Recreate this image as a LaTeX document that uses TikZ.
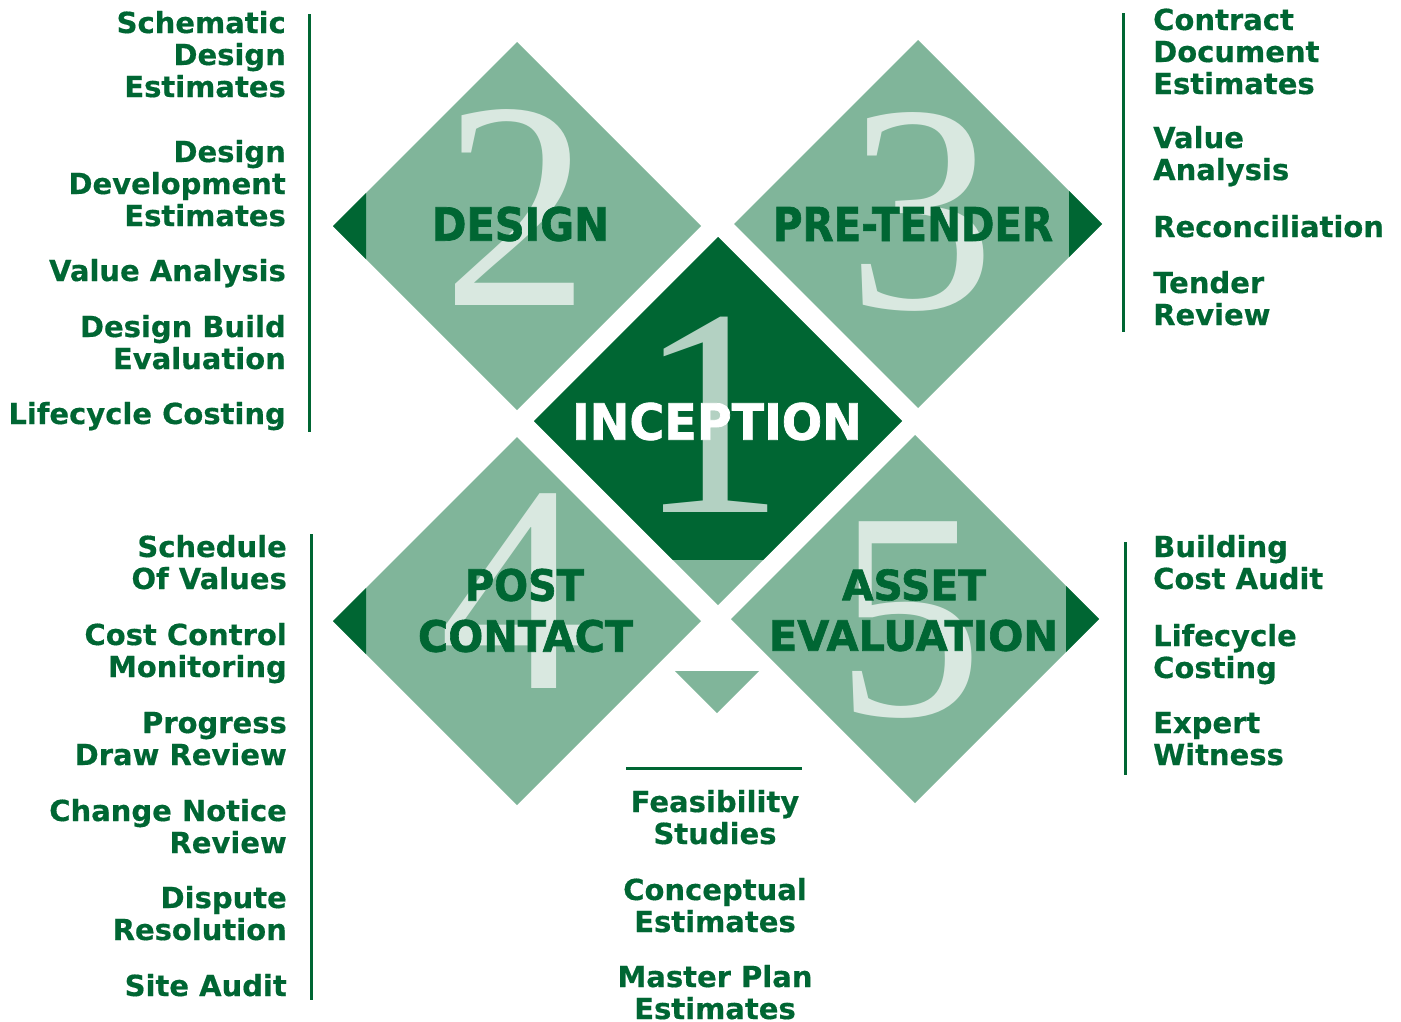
\documentclass[tikz,border=0pt]{standalone}
\usepackage{fontspec}
\usepackage{graphicx}
\newfontfamily\labelfont{DejaVu Sans}[BoldFeatures={FakeBold=0.5}]
\newfontfamily\titlefont{DejaVu Sans}[BoldFeatures={FakeBold=1.5}]
\newfontfamily\numfont{Liberation Serif}
\definecolor{pinegreen}{HTML}{006633}
\definecolor{sagegreen}{HTML}{80B59A}
\definecolor{palegreen}{HTML}{D9E8E0}
\definecolor{mistgreen}{HTML}{B3D1C2}

\begin{document}
\begin{tikzpicture}[x=1pt, y=-1pt,
  item/.style={font=\labelfont\bfseries\fontsize{29}{32}\selectfont, text=pinegreen, inner sep=0pt},
  num/.style={font=\numfont\fontsize{296}{296}\selectfont, text=palegreen, inner sep=0pt, anchor=base},
  title/.style={font=\titlefont\bfseries, text=pinegreen, inner sep=0pt},
  rule/.style={pinegreen, line width=3pt}]
\useasboundingbox (0,0) rectangle (1401,1021);

%% phase diamonds
\foreach \cx/\cy in {517/226, 918/224, 517/621, 915/619}
  \fill[sagegreen] (\cx-184,\cy) -- (\cx,\cy-184) -- (\cx+184,\cy) -- (\cx,\cy+184) -- cycle;

\fill[sagegreen] (534,421) -- (718,237) -- (902,421) -- (718,605) -- cycle;
\begin{scope}
\clip (500,200) rectangle (950,559);
\fill[pinegreen] (534,421) -- (718,237) -- (902,421) -- (718,605) -- cycle;
\end{scope}

%% dark tips
\fill[pinegreen] (333,226) -- (366,193) -- (366,259) -- cycle;
\fill[pinegreen] (1102,224) -- (1069,191) -- (1069,257) -- cycle;
\fill[pinegreen] (333,621) -- (366,588) -- (366,654) -- cycle;
\fill[pinegreen] (1099,619) -- (1066,586) -- (1066,652) -- cycle;

\fill[sagegreen] (675,671) -- (759,671) -- (717,713) -- cycle;

%% big numbers
\node[num] (n2) at (516.5,305) {2};
\node[num] (n3) at (921.5,308) {3};
\node[num, text=mistgreen] (n1) at (711.5,512) {1};
\node[num] (n4) at (513.5,688) {4};
\node[num] (n5) at (909.5,715) {5};

%% phase titles
\node[title] (design) at (520.5,224) {\resizebox{177pt}{34pt}{DESIGN}};
\node[title] (tender) at (913,224) {\resizebox{280pt}{34pt}{PRE-TENDER}};
\node[title, text=white] (inception) at (717,421.5) {\resizebox{290pt}{37pt}{INCEPTION}};
\node[title] (post) at (524.5,585) {\resizebox{119pt}{32pt}{POST}};
\node[title] (contact) at (525.5,636) {\resizebox{215pt}{32pt}{CONTACT}};
\node[title] (asset) at (914,585) {\resizebox{144pt}{31pt}{ASSET}};
\node[title] (evaluation) at (913.5,635.5) {\resizebox{289pt}{31pt}{EVALUATION}};

%% design services
\draw[rule] (309,14) -- (309,432);
\node[item, anchor=base east, align=right] (sde) at (286,97) {Schematic\\Design\\Estimates};
\node[item, anchor=base east, align=right] (dde) at (286,226) {Design\\Development\\Estimates};
\node[item, anchor=base east, align=right] (va) at (286,281) {Value Analysis};
\node[item, anchor=base east, align=right] (dbe) at (286,369) {Design Build\\Evaluation};
\node[item, anchor=base east, align=right] (lc) at (286,424) {Lifecycle Costing};

%% pre-tender services
\draw[rule] (1123,13) -- (1123,332);
\node[item, anchor=base west, align=left] (cde) at (1153,94) {Contract\\Document\\Estimates};
\node[item, anchor=base west, align=left] (tva) at (1153,180) {Value\\Analysis};
\node[item, anchor=base west, align=left] (rec) at (1153,237) {Reconciliation};
\node[item, anchor=base west, align=left] (tr) at (1153,325) {Tender\\Review};

%% post contact services
\draw[rule] (311,534) -- (311,1000);
\node[item, anchor=base east, align=right] (sov) at (287,589) {Schedule\\Of Values};
\node[item, anchor=base east, align=right] (ccm) at (287,677) {Cost Control\\Monitoring};
\node[item, anchor=base east, align=right] (pdr) at (287,765) {Progress\\Draw Review};
\node[item, anchor=base east, align=right] (cnr) at (287,853) {Change Notice\\Review};
\node[item, anchor=base east, align=right] (dr) at (287,940) {Dispute\\Resolution};
\node[item, anchor=base east, align=right] (sa) at (287,996) {Site Audit};

%% asset evaluation services
\draw[rule] (1125,542) -- (1125,775);
\node[item, anchor=base west, align=left] (bca) at (1153,589) {Building\\Cost Audit};
\node[item, anchor=base west, align=left] (alc) at (1153,678) {Lifecycle\\Costing};
\node[item, anchor=base west, align=left] (ew) at (1153,765) {Expert\\Witness};

%% inception services
\draw[rule] (626,768) -- (802,768);
\node[item, anchor=base, align=center] (fs) at (715,844) {Feasibility\\Studies};
\node[item, anchor=base, align=center] (ce) at (715,932) {Conceptual\\Estimates};
\node[item, anchor=base, align=center] (mpe) at (715,1019) {Master Plan\\Estimates};

\end{tikzpicture}
\end{document}
